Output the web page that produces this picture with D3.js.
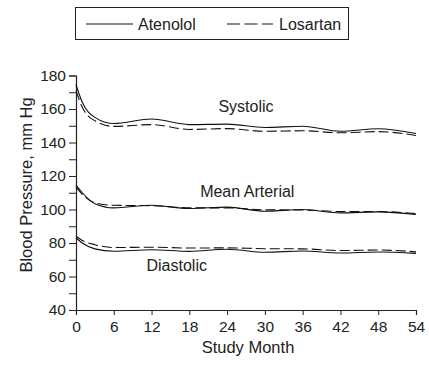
<!DOCTYPE html>
<html>
<head>
<meta charset="utf-8">
<script src="https://cdn.jsdelivr.net/npm/d3@7"></script>
<style>
  body { margin: 0; background: #fff; }
  svg text { font-family: "Liberation Sans", Arial, sans-serif; fill: #222; }
</style>
</head>
<body>
<div id="chart"></div>
<script>
// Study months at which blood pressure was measured
const months = [0, 1, 3, 6, 12, 18, 24, 30, 36, 42, 48, 54];

// Values (mm Hg)
const systolicAtenolol = [174.5, 164, 155, 151.3, 154, 150.7, 151, 149, 149.7, 146.7, 148.2, 145.4];
const systolicLosartan = [171, 161, 153, 149.6, 150.7, 147.8, 148.3, 146.7, 147, 145.8, 146.5, 144.2];
const meanAtenolol = [114.5, 110, 103.5, 101, 102.5, 100.6, 101.4, 99, 100, 98, 98.6, 97];
const meanLosartan = [113.5, 109, 104, 102.5, 102.3, 101, 101, 99.8, 99.7, 98.8, 98.8, 97.5];
const diastolicAtenolol = [83, 80, 76.5, 75.1, 76, 75, 76.3, 74.5, 75.2, 74, 74.6, 73.8];
const diastolicLosartan = [84, 81.5, 79, 77.3, 77.5, 77, 77.1, 76.6, 76.5, 75.5, 75.8, 74.7];

const xTicks = [0, 6, 12, 18, 24, 30, 36, 42, 48, 54];
const yMajor = [40, 60, 80, 100, 120, 140, 160, 180];
const yMinor = [50, 70, 90, 110, 130, 150, 170];

const series = [
  { name: "Atenolol", values: systolicAtenolol, dash: null },
  { name: "Losartan", values: systolicLosartan, dash: "10,4" },
  { name: "Atenolol", values: meanAtenolol, dash: null },
  { name: "Losartan", values: meanLosartan, dash: "10,4" },
  { name: "Atenolol", values: diastolicAtenolol, dash: null },
  { name: "Losartan", values: diastolicLosartan, dash: "10,4" },
];
const groupLabels = [
  { text: "Systolic", month: 27, value: 158 },
  { text: "Mean Arterial", month: 27.2, value: 107.5 },
  { text: "Diastolic", month: 16, value: 63.5 },
];

const W = 429, H = 372;
const FS = 16;
const svg = d3.select("#chart").append("svg").attr("width", W).attr("height", H);

const x = d3.scaleLinear().domain([0, 54]).range([76, 416]);
const y = d3.scaleLinear().domain([40, 180]).range([310, 75.5]);

// Legend
const lg = svg.append("g");
lg.append("rect").attr("x", 75.5).attr("y", 7.5).attr("width", 273).attr("height", 32)
  .attr("fill", "none").attr("stroke", "#222").attr("stroke-width", 1);
lg.append("line").attr("x1", 86).attr("x2", 133).attr("y1", 24).attr("y2", 24)
  .attr("stroke", "#111").attr("stroke-width", 1.1);
lg.append("text").attr("x", 138).attr("y", 29.5).attr("font-size", FS).text("Atenolol");
lg.append("line").attr("x1", 227).attr("x2", 273).attr("y1", 24).attr("y2", 24)
  .attr("stroke", "#111").attr("stroke-width", 1.1).attr("stroke-dasharray", "13,4.5");
lg.append("text").attr("x", 279).attr("y", 29.5).attr("font-size", FS).text("Losartan");

// Axes
svg.append("g").attr("transform", "translate(76,0)")
  .call(d3.axisLeft(y).tickValues(yMajor).tickSize(7).tickPadding(3));
svg.append("g").attr("transform", "translate(76,0)")
  .call(d3.axisLeft(y).tickValues(yMinor).tickSize(7).tickFormat(""))
  .call(g => g.select(".domain").remove());
svg.append("g").attr("transform", "translate(0,310)")
  .call(d3.axisBottom(x).tickValues(xTicks).tickSize(5).tickPadding(6));
svg.selectAll(".domain").attr("stroke", "#222").attr("stroke-width", 1.2);
svg.selectAll(".tick line").attr("stroke", "#222").attr("stroke-width", 1);
svg.selectAll(".tick text").attr("font-size", 15.5)
  .attr("font-family", "Liberation Sans, Arial, sans-serif").attr("fill", "#222");

// Axis titles
svg.append("text").attr("transform", "translate(32,185) rotate(-90)")
  .attr("text-anchor", "middle").attr("font-size", 16.5).text("Blood Pressure, mm Hg");
svg.append("text").attr("x", 248).attr("y", 353)
  .attr("text-anchor", "middle").attr("font-size", 16.5).text("Study Month");

// Lines
const line = d3.line().x((d, i) => x(months[i])).y(d => y(d)).curve(d3.curveMonotoneX);
svg.append("g").selectAll("path").data(series).join("path")
  .attr("d", d => line(d.values))
  .attr("fill", "none").attr("stroke", "#111").attr("stroke-width", 1.1)
  .attr("stroke-dasharray", d => d.dash);

// Group labels
svg.append("g").selectAll("text").data(groupLabels).join("text")
  .attr("x", d => x(d.month)).attr("y", d => y(d.value))
  .attr("text-anchor", "middle").attr("font-size", FS).text(d => d.text);
</script>
</body>
</html>
